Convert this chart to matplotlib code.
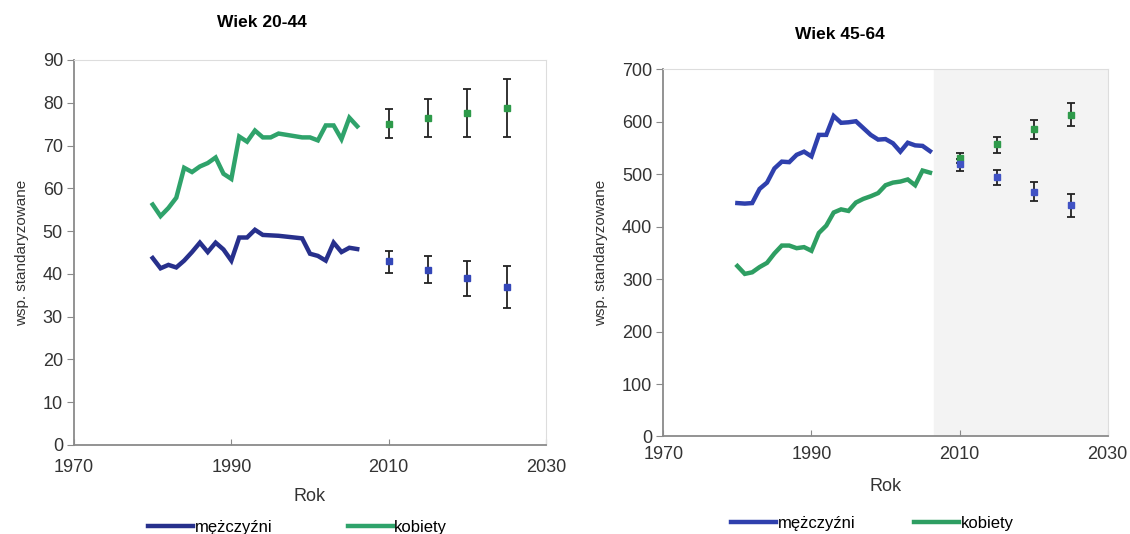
import numpy as np
import matplotlib.pyplot as plt

plt.rcParams['font.family'] = ['Liberation Sans', 'DejaVu Sans']

lata = np.arange(1980, 2007)
lata_prog = [2010, 2015, 2020, 2025]

# Wiek 20-44
m_20_44 = [43.7, 41.3, 42.1, 41.5, 43.1, 45.1, 47.3, 45.1, 47.3, 45.7, 43.1, 48.5, 48.5, 50.3,
           49.1, 49.0, 48.9, 48.7, 48.5, 48.3, 44.7, 44.2, 43.1, 47.3, 45.1, 46.1, 45.8]
k_20_44 = [56.2, 53.5, 55.4, 57.8, 64.8, 63.8, 65.1, 65.9, 67.2, 63.4, 62.2, 72.1, 70.9, 73.5,
           71.9, 71.9, 72.8, 72.5, 72.2, 71.9, 71.9, 71.2, 74.7, 74.7, 71.5, 76.5, 74.5]
m_20_44_prog = [43.0, 41.0, 39.0, 37.0]
m_20_44_lo = [40.3, 37.8, 34.9, 32.0]
m_20_44_hi = [45.3, 44.1, 42.9, 41.8]
k_20_44_prog = [75.1, 76.5, 77.5, 78.7]
k_20_44_lo = [71.7, 71.9, 71.9, 71.9]
k_20_44_hi = [78.5, 80.8, 83.1, 85.5]

# Wiek 45-64
m_45_64 = [445, 444, 445, 472, 484, 511, 524, 523, 537, 543, 534, 575, 575, 611,
           598, 599, 601, 588, 575, 566, 567, 559, 543, 560, 555, 554, 544]
k_45_64 = [325, 310, 313, 323, 331, 349, 364, 364, 359, 361, 354, 388, 402, 427,
           433, 430, 446, 453, 458, 464, 479, 484, 486, 490, 479, 507, 503]
m_45_64_prog = [520, 494, 467, 441]
m_45_64_lo = [507, 479, 448, 418]
m_45_64_hi = [529, 508, 486, 463]
k_45_64_prog = [531, 557, 586, 613]
k_45_64_lo = [521, 541, 567, 591]
k_45_64_hi = [540, 571, 604, 635]


def rysuj(ax, m, k, mp, mlo, mhi, kp, klo, khi, kol_m, kol_k, kol_mp, ymax, ystep,
          xpad, rokpad, ypad):
    ax.plot(lata, m, color=kol_m, lw=3.2, label='mężczyźni', solid_joinstyle='miter')
    ax.plot(lata, k, color=kol_k, lw=3.2, label='kobiety', solid_joinstyle='miter')
    mp = np.array(mp)
    kp = np.array(kp)
    ax.errorbar(lata_prog, kp, yerr=[kp - np.array(klo), np.array(khi) - kp], fmt='s',
                ms=4, color='#2e9a4a', ecolor='#222222', elinewidth=1.3, capsize=3, capthick=1.3)
    ax.errorbar(lata_prog, mp, yerr=[mp - np.array(mlo), np.array(mhi) - mp], fmt='s',
                ms=4, color=kol_mp, ecolor='#222222', elinewidth=1.3, capsize=3, capthick=1.3)
    ax.set_xlim(1970, 2030)
    ax.set_ylim(0, ymax)
    ax.set_xticks([1970, 1990, 2010, 2030])
    ax.set_yticks(np.arange(0, ymax + 1, ystep))
    for s in ['top', 'right']:
        ax.spines[s].set_color('#dddddd')
        ax.spines[s].set_linewidth(0.8)
    for s in ['left', 'bottom']:
        ax.spines[s].set_color('#8a8a8a')
        ax.spines[s].set_linewidth(1.3)
    ax.tick_params(axis='y', direction='out', length=5, color='#8a8a8a', labelsize=13,
                   labelcolor='#333333', pad=3)
    ax.tick_params(axis='x', direction='in', length=4, color='#8a8a8a', labelsize=13,
                   labelcolor='#333333', pad=xpad)
    ax.set_xlabel('Rok', fontsize=13, color='#333333', labelpad=rokpad)
    ax.set_ylabel('wsp. standaryzowane', fontsize=11, color='#333333', labelpad=ypad)


fig = plt.figure(figsize=(11.3, 5.34), dpi=100)
ax1 = fig.add_axes([0.0655, 0.1667, 0.4177, 0.721])
ax2 = fig.add_axes([0.587, 0.1826, 0.3933, 0.6876])

rysuj(ax1, m_20_44, k_20_44, m_20_44_prog, m_20_44_lo, m_20_44_hi,
      k_20_44_prog, k_20_44_lo, k_20_44_hi, '#27308c', '#2fa36b', '#3447b8', 90, 10,
      10, 9, 10)
ax2.axvspan(2006.5, 2030, color='#f3f3f3', zorder=0)
rysuj(ax2, m_45_64, k_45_64, m_45_64_prog, m_45_64_lo, m_45_64_hi,
      k_45_64_prog, k_45_64_lo, k_45_64_hi, '#2f40ad', '#2e9e62', '#4052c4', 700, 100,
      7, 11, 10)

fig.text(0.232, 0.958, 'Wiek 20-44', fontsize=12.5, fontweight='bold', ha='center', va='center')
fig.text(0.743, 0.935, 'Wiek 45-64', fontsize=12.5, fontweight='bold', ha='center', va='center')

ax1.legend(loc='center left', bbox_to_anchor=(0.118, 0.013), bbox_transform=fig.transFigure,
           ncol=2, frameon=False, fontsize=12, handlelength=2.7, handletextpad=0.1,
           columnspacing=4.5)
ax2.legend(loc='center left', bbox_to_anchor=(0.634, 0.02), bbox_transform=fig.transFigure,
           ncol=2, frameon=False, fontsize=12, handlelength=2.7, handletextpad=0.1,
           columnspacing=3.5)

fig.savefig('out.png', dpi=100)
